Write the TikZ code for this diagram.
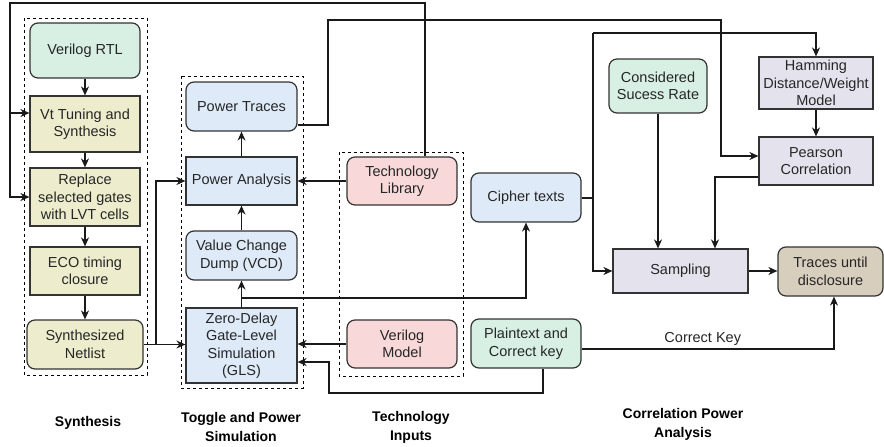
\documentclass[tikz,border=0pt]{standalone}
\usepackage{fontspec}
\setmainfont{Liberation Sans}
\usetikzlibrary{arrows.meta,calc}
\definecolor{cgreen}{HTML}{D8F0E3}
\definecolor{colive}{HTML}{EDEDCD}
\definecolor{cblue}{HTML}{DEEAF8}
\definecolor{cpink}{HTML}{F8D8D8}
\definecolor{cgray}{HTML}{E4E2EC}
\definecolor{ctan}{HTML}{D8CEBE}
\definecolor{cline}{HTML}{333333}
\tikzset{
  box/.style={draw=cline, line width=1.2pt, align=center, inner sep=1pt,
    font=\fontsize{14.5}{17.5}\selectfont, text=black!85},
  rbox/.style={box, rounded corners=8pt},
  grp/.style={draw=black, line width=1pt, dash pattern=on 3pt off 3pt},
  arr/.style={draw=black!90, line width=1.2pt, -{Stealth[length=9pt,width=8pt]}},
  ln/.style={draw=black!90, line width=1.2pt},
  lab/.style={font=\fontsize{14}{19}\selectfont\bfseries, align=center},
}
\begin{document}
\begin{tikzpicture}[x=1pt,y=-1pt]
\useasboundingbox[fill=white] (0,0) rectangle (884,447);
% group boxes
\draw[grp] (24,18) rectangle (147,375);
\draw[grp] (181,76) rectangle (303,388);
\draw[grp] (339,152) rectangle (463,376);
% synthesis
\node[rbox, fill=cgreen, minimum width=110pt, minimum height=55pt] (rtl) at (85,50.5) {Verilog RTL};
\node[box, fill=colive, minimum width=110pt, minimum height=56pt] (vt) at (85,124) {Vt Tuning and\\Synthesis};
\node[box, fill=colive, minimum width=110pt, minimum height=58pt] (repl) at (85,197) {Replace\\selected gates\\with LVT cells};
\node[box, fill=colive, minimum width=110pt, minimum height=48pt] (eco) at (85,271) {ECO timing\\closure};
\node[rbox, fill=colive, minimum width=116pt, minimum height=49pt] (net) at (85,344.5) {Synthesized\\Netlist};
% toggle and power
\node[rbox, fill=cblue, minimum width=111pt, minimum height=49pt] (pt) at (241.5,106.5) {Power Traces};
\node[box, fill=cblue, minimum width=111pt, minimum height=48pt] (pa) at (241.5,181) {Power Analysis};
\node[rbox, fill=cblue, minimum width=111pt, minimum height=49pt] (vcd) at (241.5,255.5) {Value Change\\Dump (VCD)};
\node[box, fill=cblue, minimum width=111pt, minimum height=75pt] (gls) at (241.5,345.5) {Zero-Delay\\Gate-Level\\Simulation\\(GLS)};
% technology
\node[rbox, fill=cpink, minimum width=110pt, minimum height=48pt] (tl) at (402,181) {Technology\\Library};
\node[rbox, fill=cpink, minimum width=110pt, minimum height=48pt] (vm) at (402,344) {Verilog\\Model};
% CPA
\node[rbox, fill=cblue, minimum width=110pt, minimum height=49pt] (ct) at (526,197.5) {Cipher texts};
\node[rbox, fill=cgreen, minimum width=110pt, minimum height=49pt] (pk) at (526,343.5) {Plaintext and\\Correct key};
\node[rbox, fill=cgreen, minimum width=98pt, minimum height=54pt] (csr) at (658,86) {Considered\\Sucess Rate};
\node[box, fill=cgray, minimum width=114pt, minimum height=52pt] (hd) at (816,83) {Hamming\\Distance/Weight\\Model};
\node[box, fill=cgray, minimum width=114pt, minimum height=48pt] (pc) at (816,161) {Pearson\\Correlation};
\node[box, fill=cgray, minimum width=135pt, minimum height=44pt] (samp) at (680.5,271) {Sampling};
\node[rbox, fill=ctan, minimum width=105pt, minimum height=49pt] (tud) at (830.5,271.5) {Traces until\\disclosure};
% labels
\node[lab] (l1) at (88,423) {Synthesis};
\node[lab] (l2) at (241,427) {Toggle and Power\\Simulation};
\node[lab] (l3) at (411,427) {Technology\\Inputs};
\node[lab] (l4) at (683,424) {Correlation Power\\Analysis};
% coordinates
\coordinate (tltop) at (425,3);
\coordinate (lefttop) at (10,3);
\coordinate (vtin) at (10,113);
\coordinate (netbr) at (156,344.5);
\coordinate (ptc1) at (328,125);
\coordinate (ptc2) at (328,20);
\coordinate (ptc3) at (721,20);
\coordinate (glsbr) at (241.5,298);
\coordinate (ctbr) at (593,198);
\coordinate (cttop) at (593,33);
\coordinate (pcout) at (715,177);
\coordinate (pkb1) at (543,393);
\coordinate (pkb2) at (329,393);
\coordinate (pkr) at (834,349);
% synthesis chain
\draw[arr] (rtl) -- (vt);
\draw[arr] (vt) -- (repl);
\draw[arr] (repl) -- (eco);
\draw[arr] (eco) -- (net);
% technology library feedback
\draw[ln] (tl.north -| tltop) -- (tltop) -- (lefttop) -- (vtin);
\draw[arr] (vtin) |- (repl.west);
\draw[arr] (vtin) -- (vtin -| vt.west);
% netlist
\draw[arr] (net.east) -- (net.east -| gls.west);
\draw[arr] (netbr) |- (pa.west);
% toggle chain
\draw[arr] (gls) -- (vcd);
\draw[arr] (vcd) -- (pa);
\draw[arr] (pa) -- (pt);
\draw[arr] (tl.west) -- (tl.west -| pa.east);
\draw[arr] (vm.west) -- (vm.west -| gls.east);
% power traces to Pearson
\draw[arr] (ptc1 -| pt.east) -- (ptc1) -- (ptc2) -- (ptc3) |- ([yshift=5pt]pc.west);
% GLS to cipher texts
\draw[arr] (glsbr) -| (ct.south);
% cipher texts
\draw[ln] (ct.east |- ctbr) -- (ctbr);
\draw[arr] (cttop) |- (samp.west);
\draw[arr] (cttop) -| (hd.north);
% CPA internals
\draw[arr] (csr.south) -- (csr.south |- samp.north);
\draw[arr] (pcout -| pc.west) -- (pcout) -- (pcout |- samp.north);
\draw[arr] (hd) -- (pc);
\draw[arr] (samp.east) -- (samp.east -| tud.west);
% plaintext
\draw[arr] (pkb1 |- pk.south) -- (pkb1) -- (pkb2) |- ([yshift=-16.5pt]gls.east);
\draw[arr] (pkr -| pk.east) -- node[above, font=\fontsize{14.5}{17}\selectfont, text=black!85, pos=0.48] (ck) {Correct Key} (pkr) -- (pkr |- tud.south);
\end{tikzpicture}
\end{document}
